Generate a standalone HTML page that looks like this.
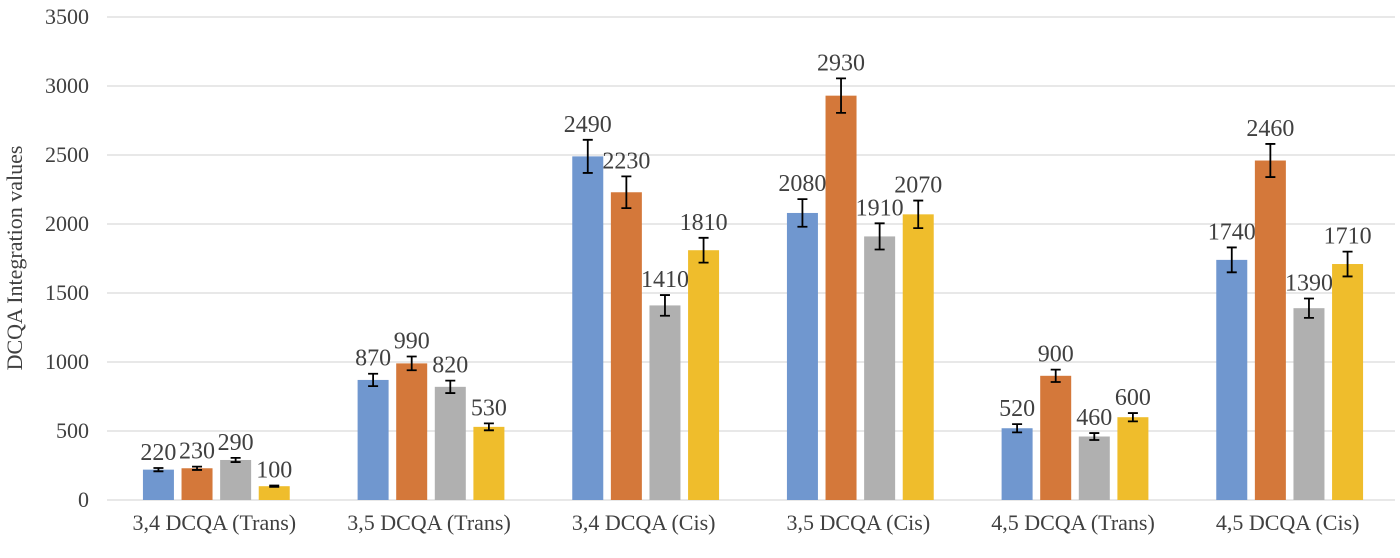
<!DOCTYPE html>
<html><head><meta charset="utf-8"><style>
body{margin:0;background:#fff;}
svg text{font-family:"Liberation Serif",serif;fill:#404040;}
</style></head><body>
<svg id="chart" width="1400" height="553" xmlns="http://www.w3.org/2000/svg"></svg>
<script>
const categories=["3,4 DCQA (Trans)","3,5 DCQA (Trans)","3,4 DCQA (Cis)","3,5 DCQA (Cis)","4,5 DCQA (Trans)","4,5 DCQA (Cis)"];
const series1=[220,870,2490,2080,520,1740];
const series2=[230,990,2230,2930,900,2460];
const series3=[290,820,1410,1910,460,1390];
const series4=[100,530,1810,2070,600,1710];
const errors1=[12,45,120,100,30,90];
const errors2=[12,50,115,125,45,120];
const errors3=[15,45,75,95,25,70];
const errors4=[5,25,90,100,30,90];
const yTicks=[0,500,1000,1500,2000,2500,3000,3500];
const colors=["#7097cf","#d4783a","#b0b0b0","#efbd2c"];
const NS="http://www.w3.org/2000/svg";
const svg=document.getElementById('chart');
const x0=107,x1=1395,y0=500,yTop=17,yMax=3500;
const y=v=>y0-(v/yMax)*(y0-yTop);
const gw=(x1-x0)/categories.length;
const gc=i=>x0+gw*(i+0.5);
function mk(t,a){const e=document.createElementNS(NS,t);for(const k in a)e.setAttribute(k,a[k]);svg.appendChild(e);return e;}
yTicks.forEach(v=>{
  const l=mk('line',{x1:x0,x2:x1,y1:y(v),y2:y(v),stroke:'#d9d9d9','stroke-width':1.3});
  
  
  const t=mk('text',{x:89,y:y(v)+7,'text-anchor':'end','font-size':22});
  t.textContent=v;
  
  
});
const yt=mk('text',{x:0,y:0,'text-anchor':'middle','font-size':22,transform:'translate(22,258) rotate(-90)'});
yt.textContent='DCQA Integration values';


const all=[series1,series2,series3,series4],errs=[errors1,errors2,errors3,errors4];
const bw=31,step=38.6;
categories.forEach((c,i)=>{
  const t=mk('text',{x:gc(i),y:530,'text-anchor':'middle','font-size':22});
  t.textContent=c;
  
  
  all.forEach((s,k)=>{
    const cx=gc(i)+2+(k-1.5)*step;
    const r=mk('rect',{x:cx-bw/2,y:y(s[i]),width:bw,height:y0-y(s[i]),fill:colors[k]});
    
    
    const e=errs[k][i],ht=y(s[i]+e),hb=y(s[i]-e);
    const p=mk('path',{d:`M${cx},${ht}V${hb}M${cx-5},${ht}H${cx+5}M${cx-5},${hb}H${cx+5}`,stroke:'#000','stroke-width':1.8,fill:'none'});
    
    
    const lt=mk('text',{x:cx,y:ht-8,'text-anchor':'middle','font-size':24});
    lt.textContent=s[i];
    
    
  });
});
</script>
</body></html>
